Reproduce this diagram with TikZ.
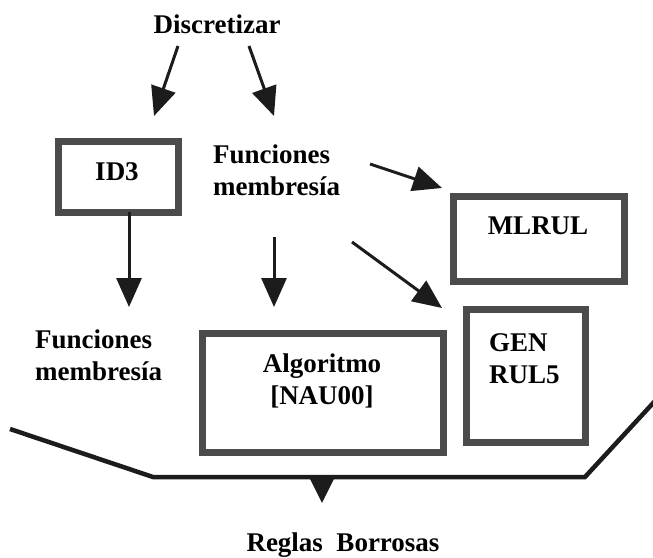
\documentclass[tikz,border=0pt]{standalone}
\usepackage{fontspec}
\setmainfont{Liberation Serif}
\usetikzlibrary{arrows.meta}
\definecolor{boxgray}{HTML}{4B4B4B}
\definecolor{ink}{HTML}{1C1C1C}
\tikzset{
  lbl/.style={font=\fontsize{27}{32}\selectfont\bfseries, inner sep=0pt, text=black},
  boxnode/.style={draw=boxgray, line width=7pt, fill=white, rectangle, inner sep=0pt},
  conn/.style={draw=ink, line width=3pt, -{Triangle[length=29pt,width=25pt]}},
  baseline/.style={draw=ink, line width=4.5pt, line join=miter}
}
\begin{document}
\begin{tikzpicture}[x=1pt,y=-1pt]
\useasboundingbox (0,0) rectangle (653,557);
\fill[white] (0,0) rectangle (653,557);

% boxes
\node[boxnode, minimum width=120pt, minimum height=71pt] (id3) at (118,176.5) {};
\node[boxnode, minimum width=171pt, minimum height=85pt] (mlrul) at (538.5,238.5) {};
\node[boxnode, minimum width=119pt, minimum height=133pt] (gen) at (525.5,375.5) {};
\node[boxnode, minimum width=241pt, minimum height=119pt] (alg) at (322.5,392.5) {};

% texts
\node[lbl, anchor=north] (disc) at (217,15) {Discretizar};
\node[lbl, anchor=north] (id3t) at (117,162) {ID3};
\node[lbl, anchor=north west, align=left] (fm1) at (213,145) {Funciones\\membresía};
\node[lbl, anchor=north] (mlrult) at (538,217) {MLRUL};
\node[lbl, anchor=north west, align=left] (gent) at (489,333) {GEN\\RUL5};
\node[lbl, anchor=north, align=center] (algt) at (322,354) {Algoritmo\\{[NAU00]}};
\node[lbl, anchor=north west, align=left] (fm2) at (35,330) {Funciones\\membresía};
\node[lbl, anchor=north] (reglas) at (343,533) {Reglas\ \ Borrosas};

% connector end points
\coordinate (d1s) at (178,46);
\coordinate (d1e) at (154,116);
\coordinate (d2s) at (249,46);
\coordinate (d2e) at (274,116);
\coordinate (i3s) at (129,212);
\coordinate (i3e) at (129,307);
\coordinate (f1s) at (274,237);
\coordinate (f1e) at (274,307);
\coordinate (m1s) at (370,164);
\coordinate (m1e) at (442,188);
\coordinate (g1s) at (352,242);
\coordinate (g1e) at (442,308);
\coordinate (b0) at (10,429);
\coordinate (b1) at (153,477);
\coordinate (b2) at (585,477);
\coordinate (b3) at (655,401);
\coordinate (bm) at (322,477);
\coordinate (be) at (322,503);

% connectors
\draw[conn] (d1s) -- (d1e);
\draw[conn] (d2s) -- (d2e);
\draw[conn] (i3s) -- (i3e);
\draw[conn] (f1s) -- (f1e);
\draw[conn] (m1s) -- (m1e);
\draw[conn] (g1s) -- (g1e);
\draw[baseline] (b0) -- (b1) -- (b2) -- (b3);
\draw[draw=ink, line width=3pt, -{Triangle[length=24pt,width=23pt]}] (bm) -- (be);
\end{tikzpicture}
\end{document}
